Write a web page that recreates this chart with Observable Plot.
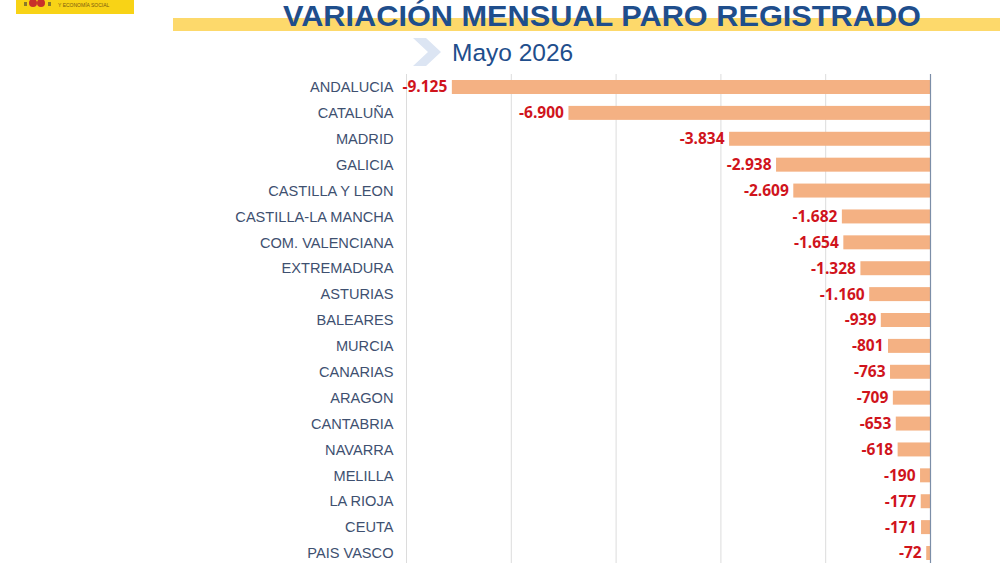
<!DOCTYPE html>
<html>
<head>
<meta charset="utf-8">
<script src="https://cdn.jsdelivr.net/npm/d3@7"></script>
<script src="https://cdn.jsdelivr.net/npm/@observablehq/plot@0.6"></script>
<style>
  html, body { margin: 0; padding: 0; background: #fff; }
  body { width: 1000px; height: 563px; overflow: hidden; position: relative; }
  #header { position: absolute; left: 0; top: 0; }
  #chart { position: absolute; left: 0; top: 74px; }
</style>
</head>
<body>
<svg id="header" width="1000" height="74" xmlns="http://www.w3.org/2000/svg">
  <rect x="16" y="0" width="118" height="14" fill="#F8D316"/>
  <circle cx="33" cy="3" r="4" fill="#C8302A"/>
  <circle cx="41" cy="3" r="4" fill="#C8302A"/>
  <rect x="24" y="2" width="3" height="4" fill="#8a7a2a"/>
  <rect x="48" y="2" width="3" height="4" fill="#8a7a2a"/>
  <text x="58" y="7" font-family="Liberation Sans, Arial, sans-serif" font-size="5" fill="#7a5a10">Y ECONOMÍA SOCIAL</text>
  <rect x="173" y="18" width="827" height="13" fill="#FDD96B"/>
  <text x="602" y="25.5" text-anchor="middle" font-family="Liberation Sans Narrow, Liberation Sans, Arial, sans-serif" font-weight="bold" font-size="30" fill="#1F4E8C" textLength="638" lengthAdjust="spacingAndGlyphs">VARIACIÓN MENSUAL PARO REGISTRADO</text>
  <polygon points="413,38 426,38 441,52 426,66 413,66 428,52" fill="#DCE5F3"/>
  <text x="452" y="61" font-family="Liberation Sans, Arial, sans-serif" font-size="24.5" fill="#1F4E8C">Mayo 2026</text>
</svg>
<div id="chart"></div>
<script>
const regiones = [
  "ANDALUCIA", "CATALUÑA", "MADRID", "GALICIA", "CASTILLA Y LEON",
  "CASTILLA-LA MANCHA", "COM. VALENCIANA", "EXTREMADURA", "ASTURIAS", "BALEARES",
  "MURCIA", "CANARIAS", "ARAGON", "CANTABRIA", "NAVARRA",
  "MELILLA", "LA RIOJA", "CEUTA", "PAIS VASCO"
];
const variacion = [
  -9125, -6900, -3834, -2938, -2609,
  -1682, -1654, -1328, -1160, -939,
  -801, -763, -709, -653, -618,
  -190, -177, -171, -72
];
const gridTicks = [-10000, -8000, -6000, -4000, -2000];

const data = regiones.map((r, i) => ({ region: r, valor: variacion[i] }));

const es = d3.formatLocale({ decimal: ",", thousands: ".", grouping: [3], currency: ["", " €"], minus: "-" });
const fmt = es.format(",d");

const chart = Plot.plot({
  width: 1000,
  height: 492,
  marginTop: 0,
  marginBottom: 0,
  marginLeft: 406,
  marginRight: 70,
  style: { fontFamily: "Liberation Sans, Arial, sans-serif", background: "transparent" },
  x: { domain: [-10000, 0], axis: null },
  y: { domain: regiones, paddingInner: 0.46, paddingOuter: 0.232, round: false, label: null, axis: null },
  marks: [
    Plot.ruleX(gridTicks, { stroke: "#dcdcdc", strokeWidth: 1 }),
    Plot.barX(data, { x: "valor", y: "region", fill: "#F4B183" }),
    Plot.ruleX([0], { stroke: "#7c8ea8", strokeWidth: 1.2 }),
    Plot.text(data, {
      x: "valor", y: "region", text: d => fmt(d.valor),
      textAnchor: "end", dx: -5, fill: "#D0141C",
      fontWeight: "bold", fontSize: 15.5, fontFamily: "Open Sans, Liberation Sans, sans-serif"
    }),
    Plot.axisY({ tickSize: 0, tickPadding: 13, fontSize: 14.6, fill: "#3E5070", label: null, color: "#3E5070" })
  ]
});
document.getElementById("chart").appendChild(chart);
</script>
</body>
</html>
